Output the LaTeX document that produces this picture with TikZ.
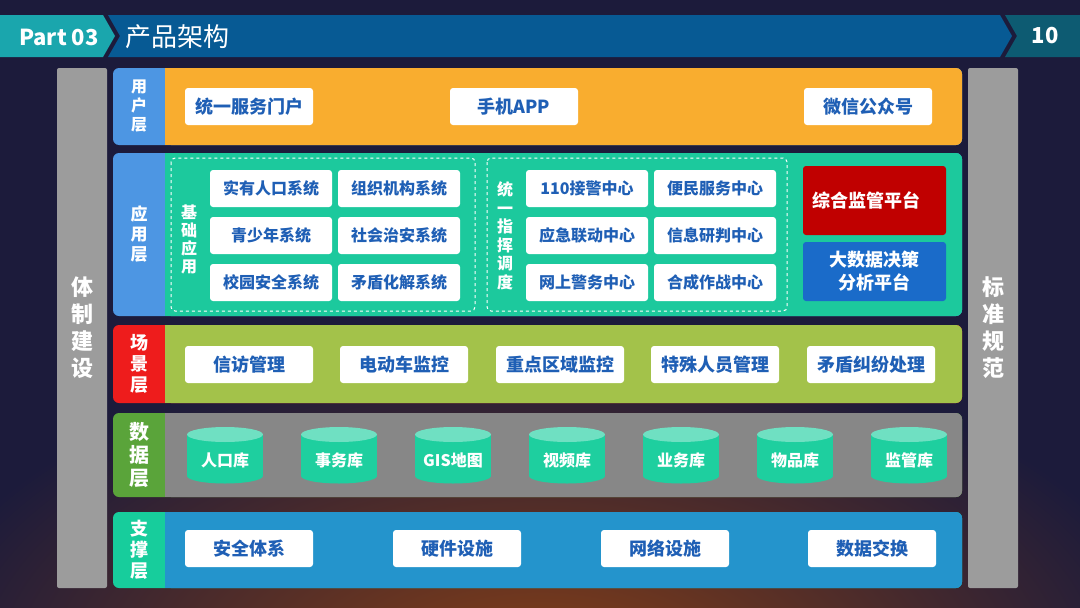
\documentclass[tikz,border=0pt]{standalone}
\usepackage{fontspec}
\setmainfont{Noto Sans CJK SC}
\usepackage{tikz}

\definecolor{bgdark}{HTML}{1C1B3B}
\definecolor{bgwarm}{HTML}{8A4015}
\definecolor{partteal}{HTML}{1AA6AD}
\definecolor{titleblue}{HTML}{075A94}
\definecolor{pageteal}{HTML}{0D5B72}
\definecolor{sidegray}{HTML}{9C9C9C}
\definecolor{labblue}{HTML}{4D96E3}
\definecolor{userorange}{HTML}{F9AD2F}
\definecolor{appgreen}{HTML}{1CC99D}
\definecolor{labred}{HTML}{EE1C1C}
\definecolor{sceneolive}{HTML}{A3C24A}
\definecolor{labgreen}{HTML}{5AA43A}
\definecolor{datagray}{HTML}{878787}
\definecolor{labteal}{HTML}{17CD9C}
\definecolor{supportblue}{HTML}{2494CC}
\definecolor{boxblue}{HTML}{1F5FB5}
\definecolor{dbgreen}{HTML}{1ECF9F}
\definecolor{dbtop}{HTML}{6FE0C2}
\definecolor{platred}{HTML}{C00000}
\definecolor{platblue}{HTML}{1A6BC9}

\begin{document}
\begin{tikzpicture}[x=1pt, y=-1pt,
    box/.style={fill=white, rounded corners=3pt, text=boxblue, inner sep=0pt,
        minimum width=128pt, minimum height=37pt, font=\bfseries\fontsize{18}{21}\selectfont},
    appbox/.style={box, minimum width=122pt, font=\bfseries\fontsize{16}{19}\selectfont},
    plat/.style={rounded corners=3pt, text=white, inner sep=0pt, align=center,
        minimum width=143pt, font=\bfseries\fontsize{18}{23}\selectfont},
    vtext/.style={text=white, align=center, inner sep=0pt},
    dbtext/.style={text=white, inner sep=0pt, font=\bfseries\fontsize{16}{19}\selectfont}]

    \useasboundingbox (0,0) rectangle (1080,608);
    % fondo
    \fill[bgdark] (0,0) rectangle (1080,608);
    \begin{scope}
        \clip (0,0) rectangle (1080,608);
        \shade[inner color=bgwarm, outer color=bgdark] (540,680) ellipse[x radius=640, y radius=340];
    \end{scope}

    % 标题栏
    \fill[partteal] (0,15) -- (103,15) -- (115,36) -- (103,57) -- (0,57) -- cycle;
    \fill[titleblue] (108,15) -- (1000,15) -- (1012,36) -- (1000,57) -- (108,57) -- (120,36) -- cycle;
    \fill[pageteal] (1005,15) -- (1080,15) -- (1080,57) -- (1005,57) -- (1017,36) -- cycle;
    \node[text=white, font=\bfseries\fontsize{22}{24}\selectfont] (part) at (59,37) {Part 03};
    \node[anchor=west, text=white, font=\fontsize{26}{28}\selectfont] (title) at (122,37) {产品架构};
    \node[text=white, font=\bfseries\fontsize{22}{24}\selectfont] (pagenum) at (1045,36) {10};

    % 两侧
    \fill[sidegray, rounded corners=2pt] (57,68) rectangle (107,588);
    \fill[sidegray, rounded corners=2pt] (968,68) rectangle (1018,588);
    \node[vtext, font=\bfseries\fontsize{22}{27}\selectfont] (system) at (82,328) {体\\制\\建\\设};
    \node[vtext, font=\bfseries\fontsize{22}{27}\selectfont] (standard) at (993,328) {标\\准\\规\\范};

    % 各层
    \foreach \ya/\yb/\lc/\mc/\fs/\bs/\txt/\nm in {
        68/145/labblue/userorange/16/19/{用\\户\\层}/lyuser,
        153/316/labblue/appgreen/17/20/{应\\用\\层}/lyapp,
        325/403/labred/sceneolive/18/21/{场\\景\\层}/lyscene,
        413/497/labgreen/datagray/20/23/{数\\据\\层}/lydata,
        512/588/labteal/supportblue/18/21/{支\\撑\\层}/lysupport}{
        \fill[\lc, rounded corners=6pt] (113,\ya) rectangle (962,\yb);
        \fill[\mc, rounded corners=6pt] (165,\ya) rectangle (962,\yb);
        \fill[\mc] (165,\ya) rectangle (175,\yb);
        \node[vtext, font=\bfseries\fontsize{\fs}{\bs}\selectfont] (\nm) at (139,{(\ya+\yb)/2}) {\txt};
    }

    % 用户层
    \foreach \x/\t/\nm in {249/统一服务门户/portal, 514/手机APP/mobile, 868/微信公众号/wechat}
        \node[box] (\nm) at (\x,106.5) {\t};

    % 应用层
    \draw[white, dashed, line width=1pt, rounded corners=4pt] (171,158) rectangle (475,311);
    \draw[white, dashed, line width=1pt, rounded corners=4pt] (487,158) rectangle (787,311);
    \node[vtext, font=\bfseries\fontsize{16}{18}\selectfont] (basic) at (189,239) {基\\础\\应\\用};
    \node[vtext, font=\bfseries\fontsize{16}{18.5}\selectfont] (command) at (505,236) {统\\一\\指\\挥\\调\\度};
    \foreach \x/\y/\t/\nm in {271/188.5/实有人口系统/basA, 399/188.5/组织机构系统/basB,
        271/235.5/青少年系统/basC, 399/235.5/社会治安系统/basD,
        271/282.5/校园安全系统/basE, 399/282.5/矛盾化解系统/basF,
        587/188.5/110接警中心/cmdA, 715/188.5/便民服务中心/cmdB,
        587/235.5/应急联动中心/cmdC, 715/235.5/信息研判中心/cmdD,
        587/282.5/网上警务中心/cmdE, 715/282.5/合成作战中心/cmdF}
        \node[appbox] (\nm) at (\x,\y) {\t};
    \node[plat, fill=platred, minimum height=69pt, text width=125pt, align=left] (supervise) at (874.5,200.5) {综合监管平台};
    \node[plat, fill=platblue, minimum height=59pt] (bigdata) at (874.5,271.5) {大数据决策\\分析平台};

    % 场景层
    \foreach \x/\t/\nm in {249/信访管理/petition, 404/电动车监控/ebike, 560/重点区域监控/keyarea,
        715/特殊人员管理/special, 871/矛盾纠纷处理/dispute}
        \node[box] (\nm) at (\x,364.5) {\t};

    % 数据层
    \foreach \t/\nm [count=\i from 0] in {人口库/dbpop, 事务库/dbaffair, GIS地图/dbgis, 视频库/dbvideo,
        业务库/dbbiz, 物品库/dbgoods, 监管库/dbsuper}{
        \pgfmathsetmacro\cx{225+114*\i}
        \fill[dbgreen] (\cx-38,434.5) rectangle (\cx+38,476);
        \fill[dbgreen] (\cx,476) ellipse[x radius=38, y radius=7.5];
        \fill[dbtop] (\cx,434.5) ellipse[x radius=38, y radius=7.5];
        \node[dbtext] (\nm) at (\cx,460) {\t};
    }

    % 支撑层
    \foreach \x/\t/\nm in {249/安全体系/security, 457/硬件设施/hardware, 665/网络设施/network, 872/数据交换/exchange}
        \node[box] (\nm) at (\x,548.5) {\t};
\end{tikzpicture}
\end{document}
